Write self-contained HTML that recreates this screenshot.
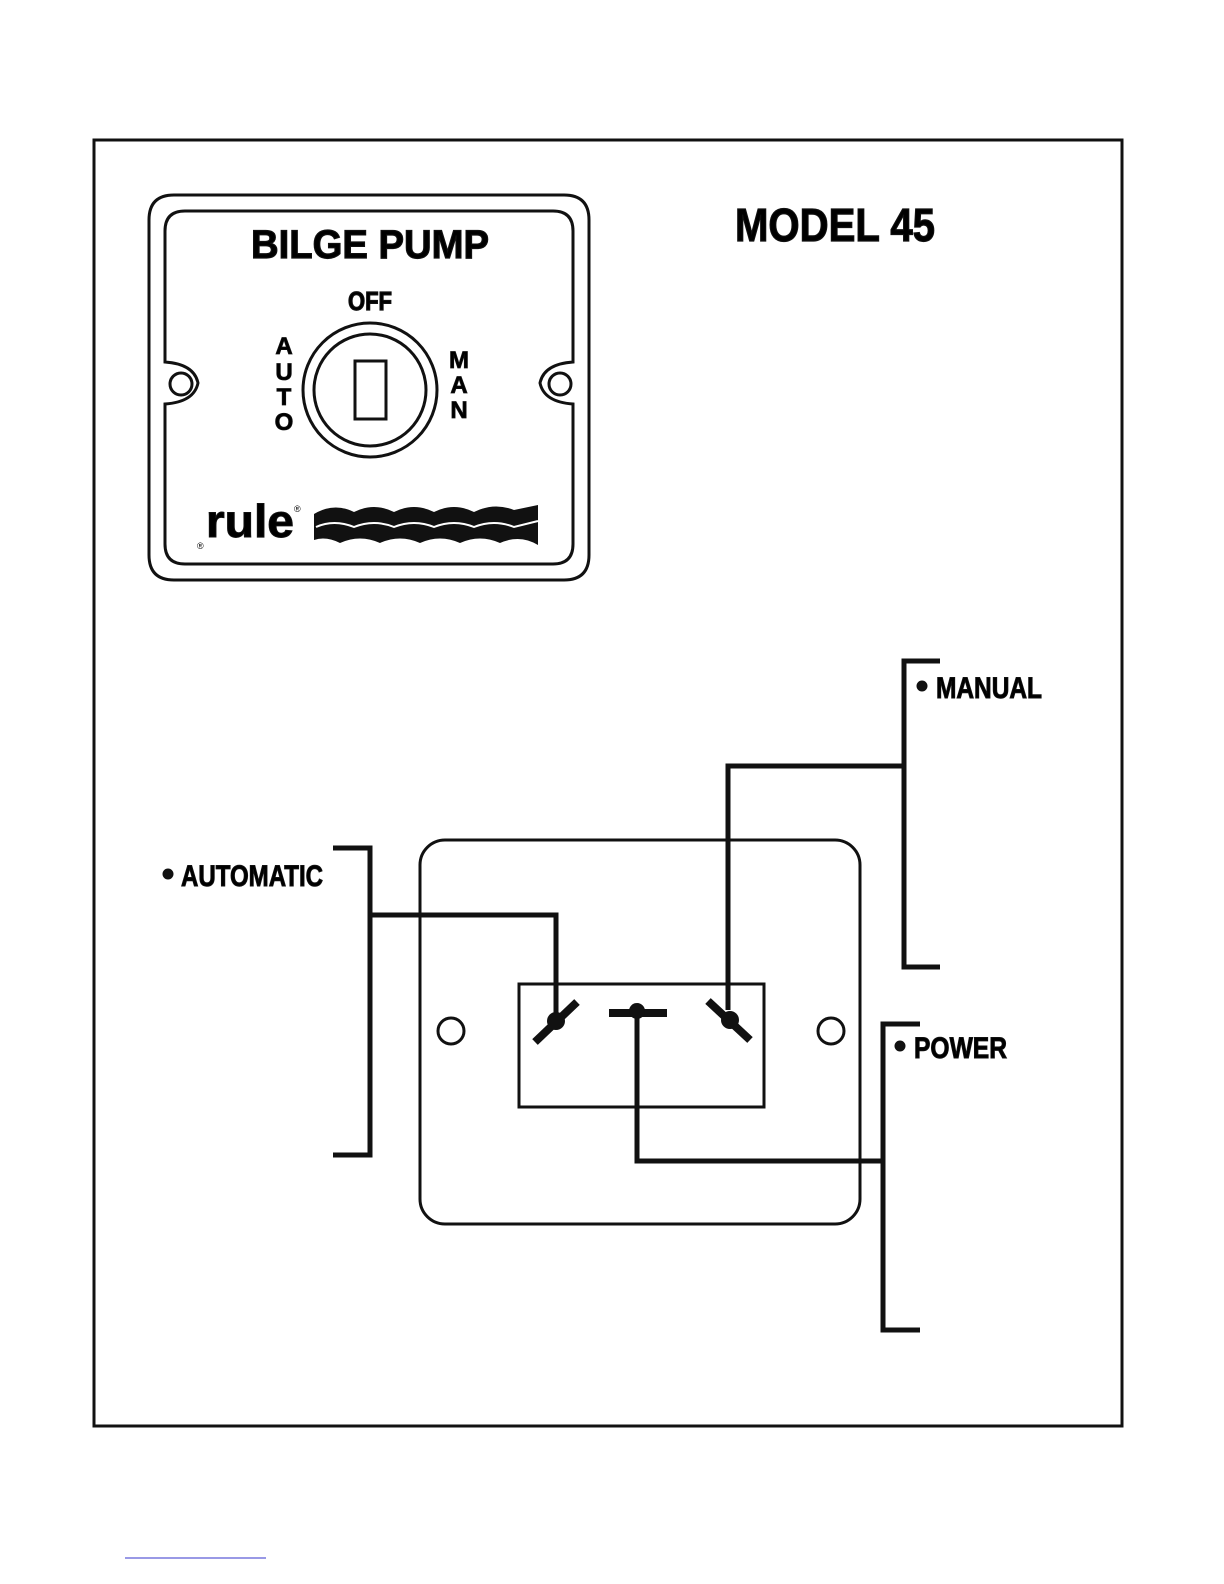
<!DOCTYPE html>
<html><head><style>body{margin:0;background:#fff}svg{display:block}</style></head><body>
<svg width="1224" height="1584" viewBox="0 0 1224 1584" xmlns="http://www.w3.org/2000/svg" font-family="Liberation Sans, sans-serif" font-weight="bold">
<rect x="94" y="140" width="1028" height="1286" fill="none" stroke="#111" stroke-width="3"/>
<!-- top switch plate -->
<path d="M174,195 H564 Q589,195 589,220 V555 Q589,580 564,580 H174 Q149,580 149,555 V220 Q149,195 174,195 Z" fill="none" stroke="#111" stroke-width="3"/>
<path d="M185,211 H553 Q573,211 573,231 V362 Q544,364 540,383 Q544,402 573,404 V544 Q573,564 553,564 H185 Q165,564 165,544 V404 Q194,402 198,383 Q194,364 165,362 V231 Q165,211 185,211 Z" fill="none" stroke="#111" stroke-width="3"/>
<circle cx="181" cy="384" r="11" fill="none" stroke="#111" stroke-width="3"/>
<circle cx="560" cy="384" r="11" fill="none" stroke="#111" stroke-width="3"/>
<g stroke="#111" stroke-width="1.2">
<text x="370" y="258" font-size="40" text-anchor="middle" textLength="238" lengthAdjust="spacingAndGlyphs">BILGE PUMP</text>
<text x="370" y="310" font-size="26" text-anchor="middle" textLength="44" lengthAdjust="spacingAndGlyphs">OFF</text>
</g>
<circle cx="370" cy="390" r="67" fill="none" stroke="#111" stroke-width="3"/>
<circle cx="370" cy="390" r="56" fill="none" stroke="#111" stroke-width="3"/>
<rect x="355" y="361" width="31" height="58" fill="none" stroke="#111" stroke-width="3"/>
<g font-size="24" text-anchor="middle" stroke="#111" stroke-width="0.8">
<text x="284" y="354">A</text><text x="284" y="380">U</text><text x="284" y="405">T</text><text x="284" y="430">O</text>
<text x="459" y="368">M</text><text x="459" y="393">A</text><text x="459" y="418">N</text>
</g>
<text x="206" y="537" font-size="46" textLength="88" lengthAdjust="spacingAndGlyphs" stroke="#111" stroke-width="1">rule</text>
<text x="294" y="512" font-size="9" font-weight="normal">®</text>
<text x="197" y="549" font-size="9" font-weight="normal">®</text>
<path d="M314,514 Q334,502 354,512 Q374,502 394,512 Q414,502 434,512 Q454,502 474,512 Q494,502 514,510 L538,505 V545 Q520,534 500,543 Q480,534 460,543 Q440,534 420,543 Q400,534 380,543 Q360,534 340,543 Q326,536 314,540 Z" fill="#111"/>
<path d="M316,527 Q334,519 354,527 Q374,519 394,527 Q414,519 434,527 Q454,519 474,527 Q494,519 514,527 L538,521" fill="none" stroke="#fff" stroke-width="2"/>
<text x="735" y="241" font-size="46" textLength="200" lengthAdjust="spacingAndGlyphs" stroke="#111" stroke-width="1.2">MODEL 45</text>
<!-- bottom plate -->
<rect x="420" y="840" width="440" height="384" rx="25" fill="none" stroke="#111" stroke-width="3"/>
<circle cx="451" cy="1031" r="13" fill="none" stroke="#111" stroke-width="3"/>
<circle cx="831" cy="1031" r="13" fill="none" stroke="#111" stroke-width="3"/>
<rect x="519" y="984" width="245" height="123" fill="none" stroke="#111" stroke-width="3"/>
<g stroke="#111" stroke-width="5" fill="none">
<path d="M333,848 H370 V1155 H333"/>
<path d="M370,915 H556 V1021"/>
<path d="M940,661 H904 V967 H940"/>
<path d="M904,766 H728 V1010"/>
<path d="M920,1024 H883 V1330 H920"/>
<path d="M883,1161 H637 V1006"/>
</g>
<g stroke="#111" stroke-width="8">
<line x1="535" y1="1042" x2="577" y2="1002"/>
<line x1="708" y1="1001" x2="750" y2="1040"/>
<line x1="609" y1="1013" x2="667" y2="1013"/>
</g>
<circle cx="556" cy="1021" r="9" fill="#111"/>
<circle cx="730" cy="1020" r="9" fill="#111"/>
<circle cx="637" cy="1011" r="8" fill="#111"/>
<g stroke="#111" stroke-width="1">
<circle cx="168" cy="874" r="5" fill="#111"/>
<text x="181" y="886" font-size="30" textLength="142" lengthAdjust="spacingAndGlyphs">AUTOMATIC</text>
<circle cx="922" cy="686" r="5" fill="#111"/>
<text x="936" y="698" font-size="30" textLength="106" lengthAdjust="spacingAndGlyphs">MANUAL</text>
<circle cx="900" cy="1046" r="5" fill="#111"/>
<text x="914" y="1058" font-size="30" textLength="93" lengthAdjust="spacingAndGlyphs">POWER</text>
</g>
<line x1="125" y1="1558" x2="266" y2="1558" stroke="#33c" stroke-width="1"/>
</svg>
</body></html>
